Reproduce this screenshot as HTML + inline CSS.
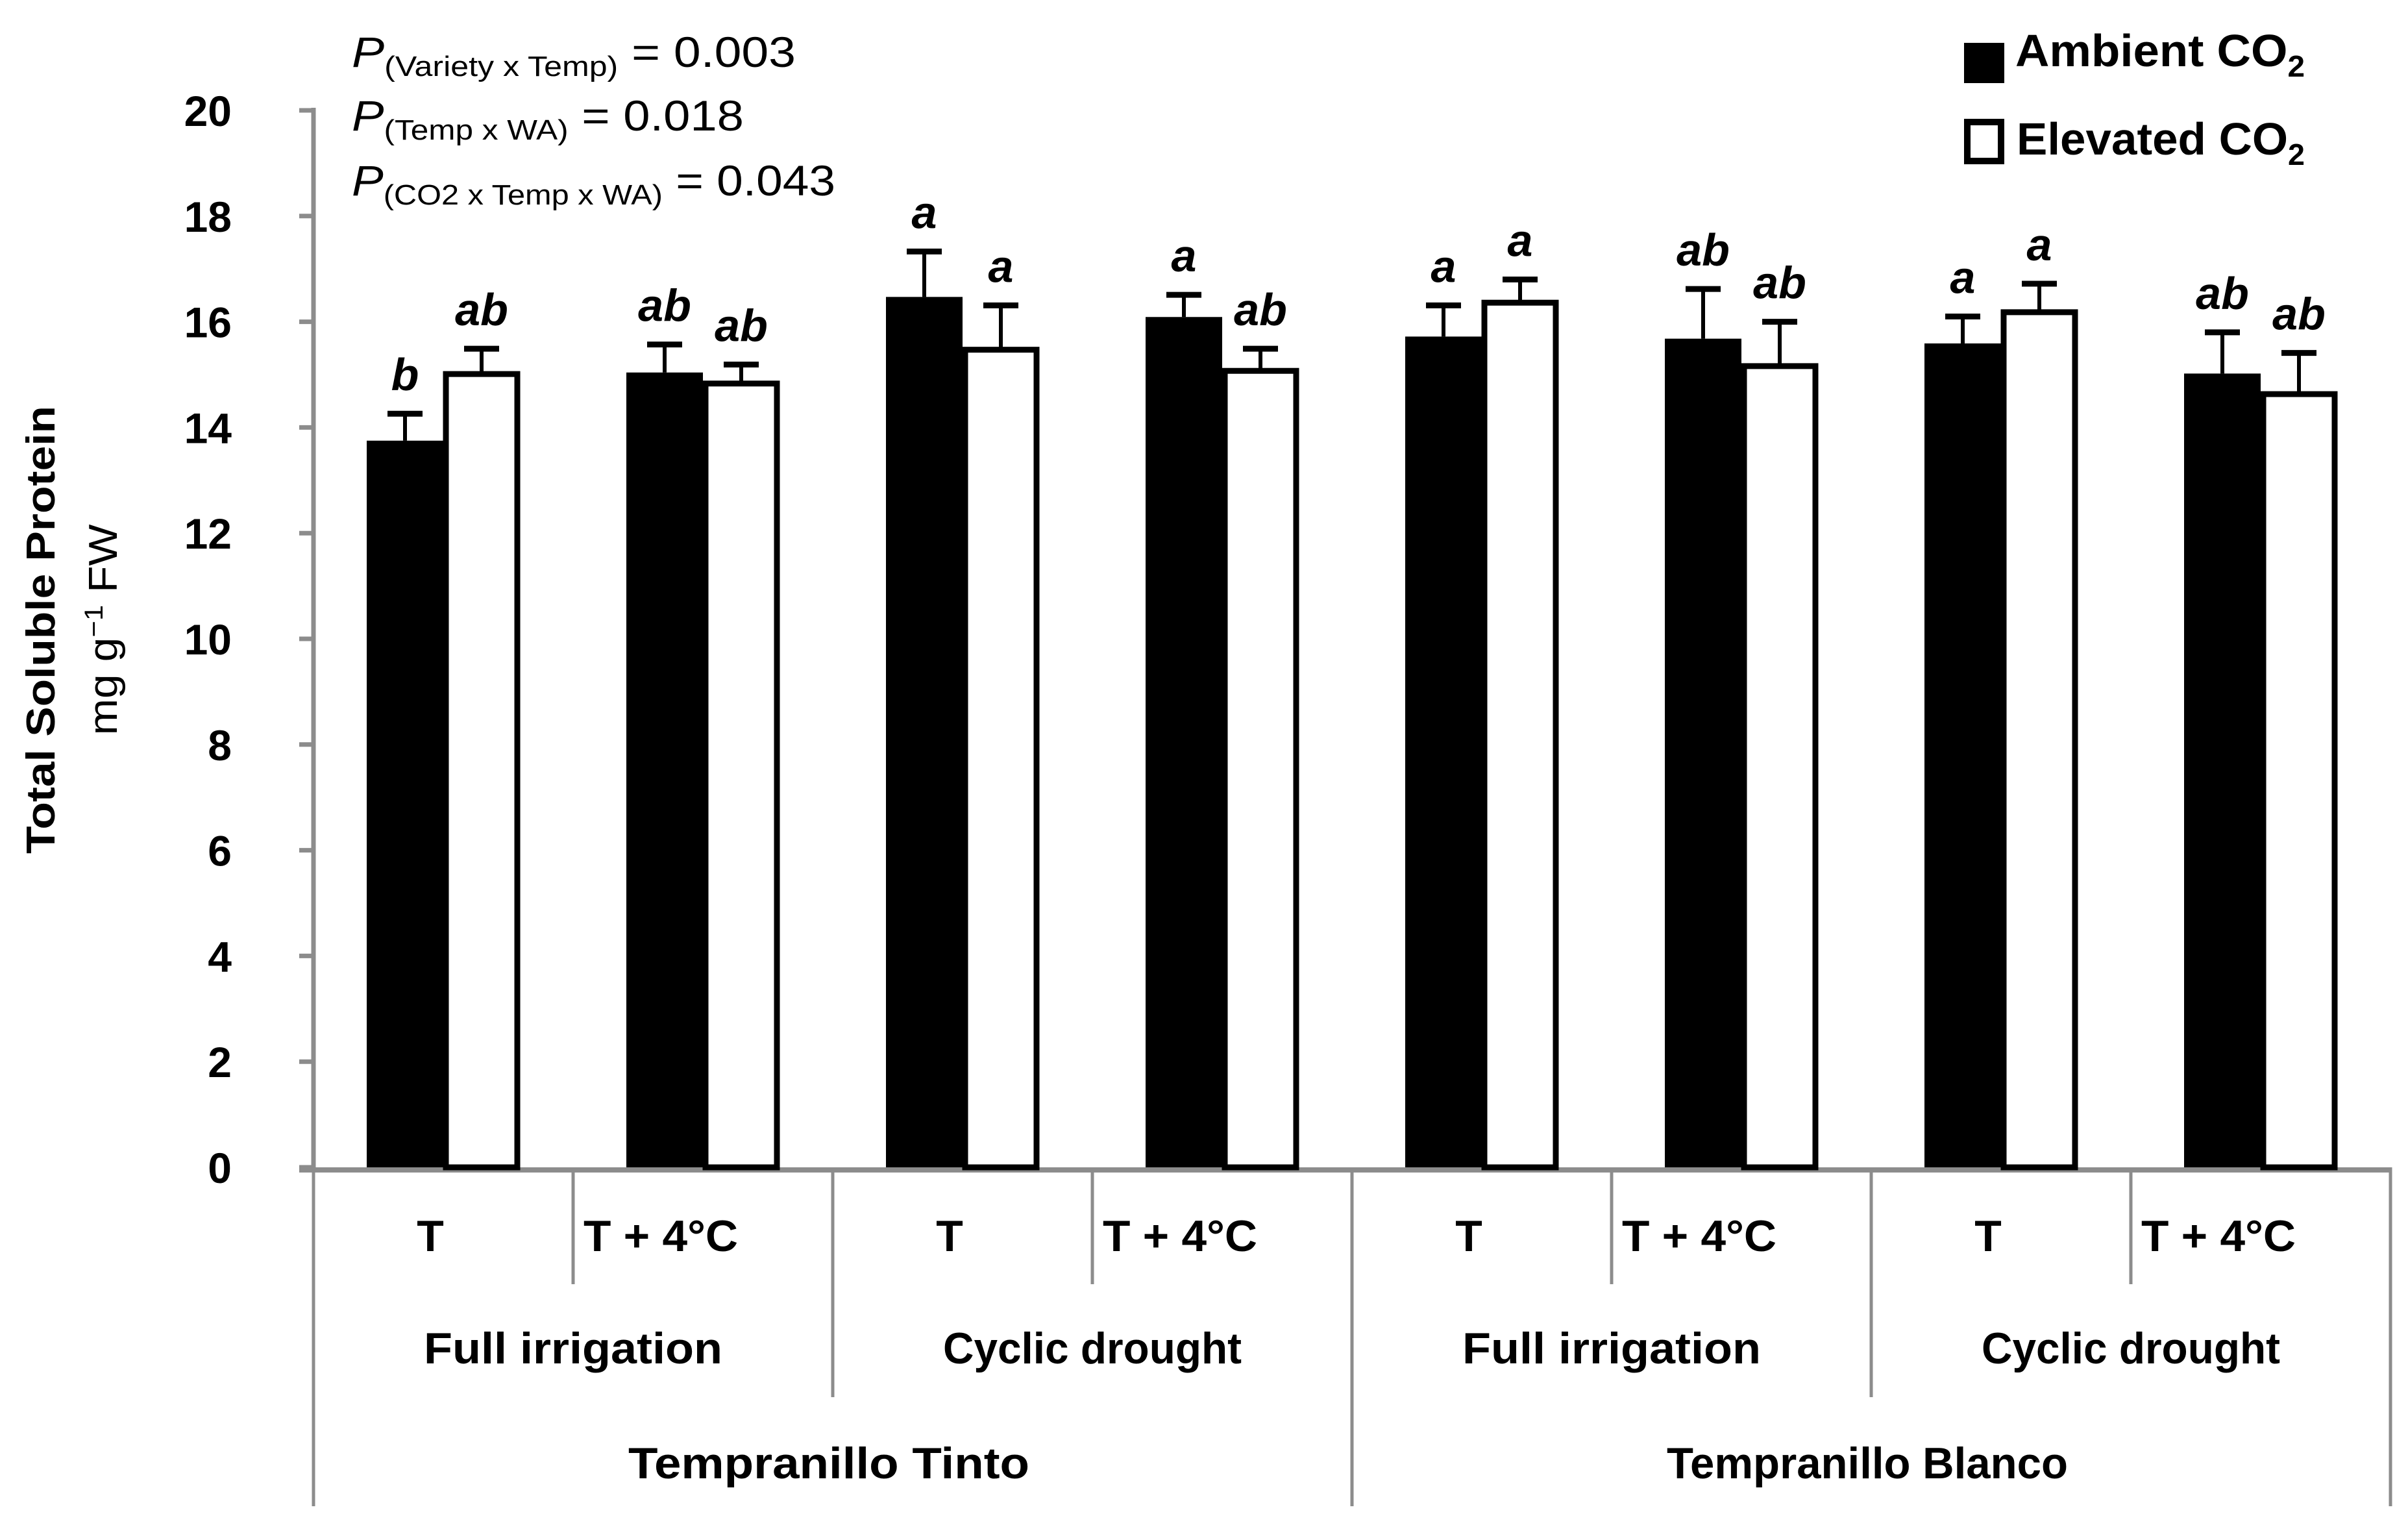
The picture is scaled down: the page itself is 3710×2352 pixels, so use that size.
<!DOCTYPE html>
<html><head><meta charset="utf-8"><style>
html,body{margin:0;padding:0;background:#fff;}
svg{display:block;font-family:"Liberation Sans",sans-serif;}
</style></head><body>
<svg id="chart" width="3710" height="2352" viewBox="0 0 3710 2352" xmlns="http://www.w3.org/2000/svg">
<g id="axes"></g>
<g id="bars"></g>
<g font-size="66">
<text x="542" y="103" textLength="684" lengthAdjust="spacingAndGlyphs"><tspan font-style="italic">P</tspan><tspan font-size="44" dy="14">(Variety x Temp)</tspan><tspan dy="-14"> = 0.003</tspan></text>
<text x="542" y="201" textLength="604" lengthAdjust="spacingAndGlyphs"><tspan font-style="italic">P</tspan><tspan font-size="44" dy="14">(Temp x WA)</tspan><tspan dy="-14"> = 0.018</tspan></text>
<text x="542" y="301" textLength="745" lengthAdjust="spacingAndGlyphs"><tspan font-style="italic">P</tspan><tspan font-size="44" dy="14">(CO2 x Temp x WA)</tspan><tspan dy="-14"> = 0.043</tspan></text>
</g>
<g font-weight="bold" font-size="70">
<rect x="3026" y="66" width="62" height="62" fill="#000"/>
<text x="3105" y="102" textLength="446" lengthAdjust="spacingAndGlyphs">Ambient CO<tspan font-size="46" dy="16">2</tspan></text>
<rect x="3031" y="188" width="52" height="60" fill="#fff" stroke="#000" stroke-width="10"/>
<text x="3107" y="238" textLength="444" lengthAdjust="spacingAndGlyphs">Elevated CO<tspan font-size="46" dy="16">2</tspan></text>
</g>
<g font-size="62">
<text transform="translate(84,970) rotate(-90)" text-anchor="middle" font-weight="bold" textLength="690" lengthAdjust="spacingAndGlyphs">Total Soluble Protein</text>
<text transform="translate(180,970) rotate(-90)" text-anchor="middle" textLength="325" lengthAdjust="spacingAndGlyphs">mg g<tspan font-size="40" dy="-22">−1</tspan><tspan dy="22"> FW</tspan></text>
</g>
</svg>
<script>
const categories=["TT-FI-T","TT-FI-T4","TT-CD-T","TT-CD-T4","TB-FI-T","TB-FI-T4","TB-CD-T","TB-CD-T4"];
const ambientValues=[13.75,15.04,16.47,16.09,15.72,15.68,15.59,15.02];
const ambientErrors=[0.51,0.53,0.86,0.42,0.59,0.94,0.51,0.78];
const elevatedValues=[15.06,14.88,15.52,15.12,16.41,15.21,16.23,14.68];
const elevatedErrors=[0.43,0.31,0.79,0.37,0.39,0.79,0.49,0.73];
const ambientLetters=["b","ab","a","a","a","ab","a","ab"];
const elevatedLetters=["ab","ab","a","ab","a","ab","a","ab"];
const yTicks=[0,2,4,6,8,10,12,14,16,18,20];
const tempLabels=["T","T + 4°C","T","T + 4°C","T","T + 4°C","T","T + 4°C"];
const waterLabels=["Full irrigation","Cyclic drought","Full irrigation","Cyclic drought"];
const varietyLabels=["Tempranillo Tinto","Tempranillo Blanco"];

const NS="http://www.w3.org/2000/svg";
const X0=483,X1=3683,Y0=1798,YTOP=170,YMAX=20;
const catW=(X1-X0)/categories.length;
function y(v){return Y0-(v/YMAX)*(Y0-YTOP);}
function xc(i){return X0+catW*(i+0.5);}
function mk(tag,attrs,parent){const e=document.createElementNS(NS,tag);for(const k in attrs)e.setAttribute(k,attrs[k]);parent.appendChild(e);return e;}
const axes=document.getElementById('axes'),bars=document.getElementById('bars');
const G="#8c8c8c";
// y axis
let ya=mk('line',{x1:X0,y1:YTOP-4,x2:X0,y2:Y0,stroke:G,'stroke-width':7},axes);

yTicks.forEach(t=>{
 let tk=mk('line',{x1:X0-22,y1:y(t),x2:X0,y2:y(t),stroke:G,'stroke-width':7},axes);
 
 let tl=mk('text',{x:357,y:y(t)+24,'text-anchor':'end','font-weight':'bold','font-size':66},axes);
 
 tl.textContent=t;
});
// bars
const BW=118;
categories.forEach((c,i)=>{
 const cx=xc(i);
 const bx=cx-BW;
 let b=mk('rect',{x:bx,y:y(ambientValues[i]),width:BW,height:Y0-y(ambientValues[i]),fill:'#000'},bars);
 
 let w=mk('rect',{x:cx+4,y:y(elevatedValues[i])+4,width:BW-8,height:Y0-y(elevatedValues[i])-4,fill:'#fff',stroke:'#000','stroke-width':9},bars);
 
 [[bx+BW/2,ambientValues[i],ambientErrors[i],ambientLetters[i]],[cx+BW/2,elevatedValues[i],elevatedErrors[i],elevatedLetters[i]]].forEach(([ex,v,e,l])=>{
  const top=y(v+e);
  let el=mk('line',{x1:ex,y1:y(v),x2:ex,y2:top,stroke:'#000','stroke-width':6},bars);
  
  let cp=mk('line',{x1:ex-27,y1:top,x2:ex+27,y2:top,stroke:'#000','stroke-width':9},bars);
  
  let lt=mk('text',{x:ex,y:top-36,'text-anchor':'middle','font-weight':'bold','font-style':'italic','font-size':70},bars);
  
  lt.textContent=l;
 });
});
// x axis
let xa=mk('line',{x1:X0-22,y1:Y0+4,x2:X1,y2:Y0+4,stroke:G,'stroke-width':8},axes);

for(let i=0;i<=categories.length;i++){
 const x=X0+catW*i;
 let bottom= i%4===0?2320:(i%2===0?2152:1978);
 let d=mk('line',{x1:x,y1:Y0,x2:x,y2:bottom,stroke:G,'stroke-width':5},axes);
 
}
tempLabels.forEach((t,i)=>{
 let tl;
 if(i%2===0){tl=mk('text',{x:xc(i)-20,y:1927,'text-anchor':'middle','font-weight':'bold','font-size':68},axes);}
 else{tl=mk('text',{x:X0+catW*i+16,y:1927,'font-weight':'bold','font-size':68,textLength:238,lengthAdjust:'spacingAndGlyphs'},axes);}
 
 tl.textContent=t;
});
waterLabels.forEach((t,i)=>{
 let tl=mk('text',{x:X0+catW*(2*i+1),y:2100,'text-anchor':'middle','font-weight':'bold','font-size':68,textLength:460,lengthAdjust:'spacingAndGlyphs'},axes);
 
 tl.textContent=t;
});
varietyLabels.forEach((t,i)=>{
 let tl=mk('text',{x:X0+catW*(4*i+2)-6,y:2277,'text-anchor':'middle','font-weight':'bold','font-size':68,textLength:618,lengthAdjust:'spacingAndGlyphs'},axes);
 
 tl.textContent=t;
});
</script>
</body></html>
